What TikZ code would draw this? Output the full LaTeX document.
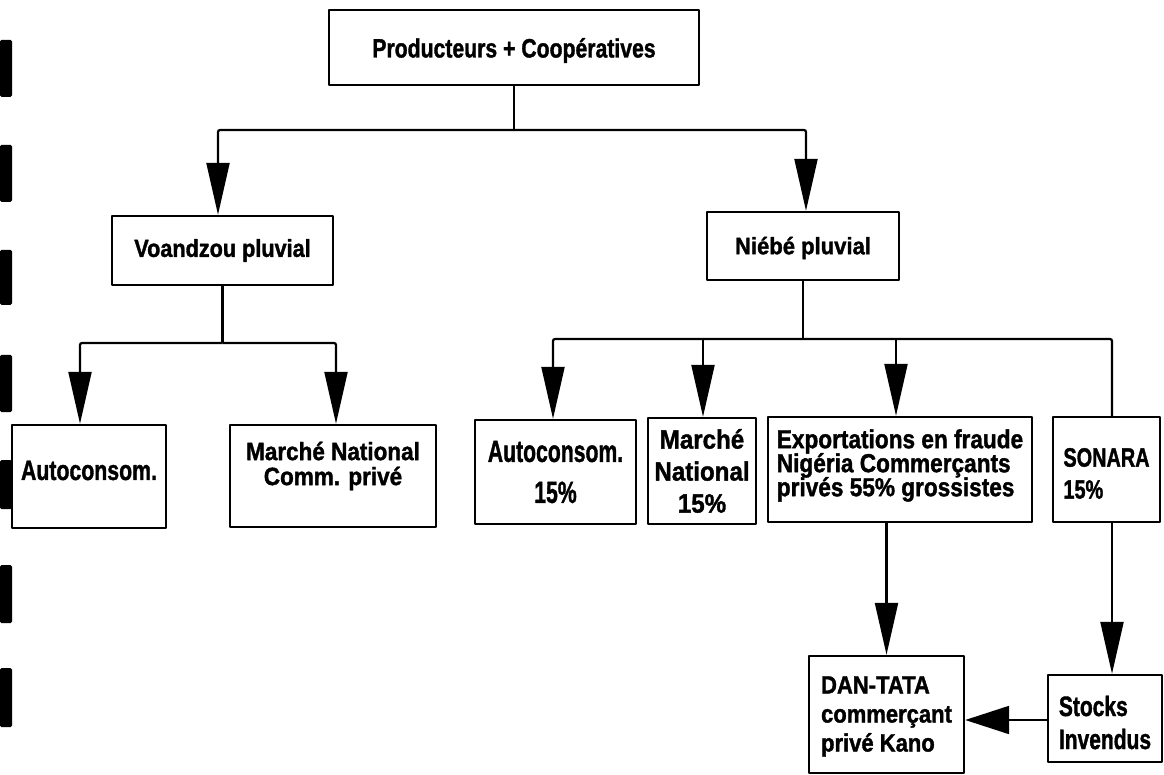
\documentclass[tikz,border=0pt]{standalone}
\usepackage{fontspec}
\setmainfont{Liberation Sans}[BoldFeatures={FakeBold=1.5}]
\usepackage{graphicx}
\usetikzlibrary{arrows.meta}

% stacked lines with a fixed baseline pitch (centred / left aligned)
\newcommand\cstack[2]{\vbox{\baselineskip=#1\relax\lineskiplimit=-1000pt\halign{\hfil##\hfil\cr#2\crcr}}}
\newcommand\lstack[2]{\vbox{\baselineskip=#1\relax\lineskiplimit=-1000pt\halign{##\hfil\cr#2\crcr}}}
% move text up or down inside its box without changing the box
\newcommand\lift[2]{\raisebox{#1}[\height][\depth]{#2}}
\newcommand\fs[1]{\fontsize{#1}{#1}\selectfont\bfseries}

\begin{document}
\begin{tikzpicture}[x=1pt,y=-1pt,
  box/.style={draw, line width=2.4pt, inner sep=0pt, line join=round},
  link/.style={line width=2.2pt, rounded corners=2pt},
  arr/.style={link, -{Triangle[length=52pt,width=23pt]}},
  sidearr/.style={link, -{Triangle[length=44pt,width=28pt]}},
  ]
\fill[white] (0,0) rectangle (1164,775);
\useasboundingbox (0,0) rectangle (1164,775);

% binding marks along the left margin
\foreach \a/\b in {40/97,145/202,250/305,355/412,460/509,565/623,668/727}
  \fill[rounded corners=1.5pt] (0,\a) rectangle (12,\b);

% boxes
\node[box, minimum width=370pt, minimum height=75pt, font=\fs{26.5}] (prod) at (514,47.5)
  {\lift{-3pt}{\scalebox{0.80}[1]{Producteurs + Coopératives}}};
\node[box, minimum width=221pt, minimum height=69pt, font=\fs{24.6}] (voa) at (222.5,250.5)
  {\scalebox{0.88}[1]{Voandzou pluvial}};
\node[box, minimum width=192pt, minimum height=68pt, font=\fs{23.7}] (nie) at (803,246)
  {\lift{-2pt}{\scalebox{0.93}[1]{Niébé pluvial}}};
\node[box, minimum width=154pt, minimum height=103pt, font=\fs{28}] (auto1) at (89,476.5)
  {\lift{6pt}{\scalebox{0.76}[1]{Autoconsom.}}};
\node[box, minimum width=206pt, minimum height=102pt, font=\fs{25}] (mn1) at (333,476)
  {\lift{10pt}{\scalebox{0.9}[1]{\cstack{25pt}{Marché National\cr Comm. privé}}}};
\node[box, minimum width=161pt, minimum height=104pt, font=\fs{30.7}] (auto2) at (555.5,472)
  {\scalebox{0.69}[1]{\cstack{41pt}{Autoconsom.\cr 15\%}}};
\node[box, minimum width=108pt, minimum height=106pt, font=\fs{26.5}] (mn2) at (702,471)
  {\scalebox{0.91}[1]{\cstack{32pt}{Marché\cr National\cr 15\%}}};
\node[box, minimum width=264pt, minimum height=105pt, font=\fs{26}] (exp) at (900,469.5)
  {\lift{4pt}{\scalebox{0.87}[1]{\lstack{24pt}{Exportations en fraude\cr Nigéria Commerçants\cr privés 55\% grossistes}}}};
\node[box, minimum width=107pt, minimum height=105pt, font=\fs{26.5}] (son) at (1106.5,469.5)
  {\lift{-4pt}{\scalebox{0.75}[1]{\lstack{32pt}{SONARA\cr 15\%}}}};
\node[box, minimum width=155pt, minimum height=117pt, font=\fs{25}] (dan) at (886.5,714.5)
  {\lift{-2pt}{\scalebox{0.88}[1]{\lstack{29pt}{DAN-TATA\cr commerçant\cr privé Kano}}}};
\node[box, minimum width=114pt, minimum height=87pt, font=\fs{28}] (stk) at (1105,718.5)
  {\lift{-4pt}{\scalebox{0.75}[1]{\lstack{33pt}{Stocks\cr Invendus}}}};

% branch points
\coordinate (t1L) at (218,130);
\coordinate (t1R) at (806,130);
\coordinate (t2L) at (80,343);
\coordinate (t2R) at (336,343);
\coordinate (t3a) at (553,339);
\coordinate (t3b) at (703,339);
\coordinate (t3c) at (896,339);
\coordinate (t3d) at (1112,339);

% first level
\draw[link] (prod.south) -- (prod.south |- t1L);
\draw[arr] (prod.south |- t1L) -- (t1L) -- (t1L |- voa.north);
\draw[arr] (prod.south |- t1R) -- (t1R) -- (t1R |- nie.north);

% Voandzou branches
\draw[link] (voa.south) -- (voa.south |- t2L);
\draw[arr] (voa.south |- t2L) -- (t2L) -- (t2L |- auto1.north);
\draw[arr] (voa.south |- t2R) -- (t2R) -- (t2R |- mn1.north);

% Niébé branches
\draw[link] (nie.south) -- (nie.south |- t3a);
\draw[arr] (nie.south |- t3a) -- (t3a) -- (t3a |- auto2.north);
\draw[arr] (t3b) -- (t3b |- mn2.north);
\draw[arr] (t3c) -- (t3c |- exp.north);
\draw[link] (nie.south |- t3d) -- (t3d) -- (t3d |- son.north);

% lower level
\draw[arr] (dan.north |- exp.south) -- (dan.north);
\draw[arr] (son.south -| t3d) -- (stk.north -| t3d);
\draw[sidearr] (stk.west |- 0,720) -- (dan.east |- 0,720);
\end{tikzpicture}
\end{document}
